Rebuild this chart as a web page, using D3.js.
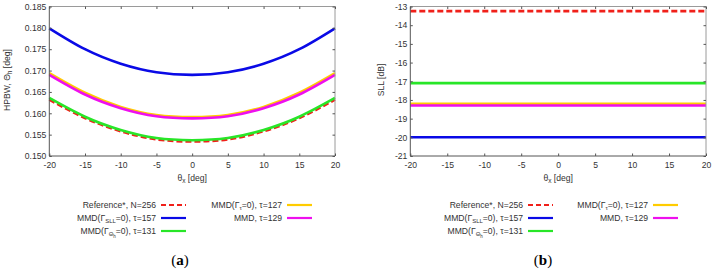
<!DOCTYPE html>
<html>
<head>
<meta charset="utf-8">
<script src="https://cdn.jsdelivr.net/npm/d3@7"></script>
<style>
  body { margin: 0; background: #fff; }
  svg text { font-family: "Liberation Sans", Arial, sans-serif; fill: #333; }
</style>
</head>
<body>
<svg id="chart" width="715" height="271"></svg>
<script>
// theta_x samples [deg]
var thetaX = [-20, -15, -10, -5, 0, 5, 10, 15, 20];

// HPBW [deg]
var hpbwRef = [0.1632, 0.1589, 0.1558, 0.1539, 0.1534, 0.1539, 0.1558, 0.1589, 0.1632];
var hpbwSll = [0.1799, 0.1750, 0.1716, 0.1696, 0.1690, 0.1696, 0.1716, 0.1750, 0.1799];
var hpbwTh = [0.1636, 0.1592, 0.1561, 0.1542, 0.1537, 0.1542, 0.1561, 0.1592, 0.1636];
var hpbwTau = [0.1694, 0.1648, 0.1615, 0.1596, 0.1591, 0.1596, 0.1615, 0.1648, 0.1694];
var hpbwMmd = [0.1690, 0.1644, 0.1612, 0.1593, 0.1588, 0.1593, 0.1612, 0.1644, 0.1690];

// SLL [dB], constant over theta_x
var sllRef = [-13.25, -13.25, -13.25, -13.25, -13.25, -13.25, -13.25, -13.25, -13.25];
var sllSll = [-20.0, -20.0, -20.0, -20.0, -20.0, -20.0, -20.0, -20.0, -20.0];
var sllTh = [-17.1, -17.1, -17.1, -17.1, -17.1, -17.1, -17.1, -17.1, -17.1];
var sllTau = [-18.2, -18.2, -18.2, -18.2, -18.2, -18.2, -18.2, -18.2, -18.2];
var sllMmd = [-18.3, -18.3, -18.3, -18.3, -18.3, -18.3, -18.3, -18.3, -18.3];

var xTicks = [-20, -15, -10, -5, 0, 5, 10, 15, 20];
var hpbwTicks = [0.150, 0.155, 0.160, 0.165, 0.170, 0.175, 0.180, 0.185];
var sllTicks = [-21, -20, -19, -18, -17, -16, -15, -14, -13];

var seriesStyle = [
  { color: "#f0201a", dash: "6,3" },
  { color: "#0a0ae6", dash: null },
  { color: "#28e628", dash: null },
  { color: "#ffcc00", dash: null },
  { color: "#ee10ee", dash: null }
];

var FONT = "'Liberation Sans', Arial, sans-serif";
var svg = d3.select("#chart");

function plain(d) { return String(d); }

function drawPanel(opt) {
  var x = d3.scaleLinear().domain([-20, 20]).range([opt.left, opt.right]);
  var y = d3.scaleLinear().domain(opt.yDomain).range([156, 6.5]);
  var g = svg.append("g");

  // lines
  var line = d3.line()
    .x(function (d) { return x(d[0]); })
    .y(function (d) { return y(d[1]); })
    .curve(d3.curveNatural);
  opt.series.forEach(function (s, i) {
    var pts = thetaX.map(function (t, k) { return [t, s[k]]; });
    g.append("path")
      .attr("d", line(pts))
      .attr("fill", "none")
      .attr("stroke", seriesStyle[i].color)
      .attr("stroke-width", 2.6)
      .attr("stroke-dasharray", seriesStyle[i].dash);
  });

  // frame
  g.append("path")
    .attr("d", "M" + opt.left + "," + y.range()[1] + "H" + opt.right + "V" + y.range()[0])
    .attr("fill", "none").attr("stroke", "#9a9a9a").attr("stroke-width", 1);
  g.append("path")
    .attr("d", "M" + opt.left + "," + y.range()[1] + "V" + y.range()[0] + "H" + opt.right)
    .attr("fill", "none").attr("stroke", "#555").attr("stroke-width", 1);

  // axes
  var ax = g.append("g").attr("transform", "translate(0,156)")
    .call(d3.axisBottom(x).tickValues(xTicks).tickSize(-2.5).tickPadding(6).tickFormat(plain));
  var axTop = g.append("g").attr("transform", "translate(0,6.5)")
    .call(d3.axisTop(x).tickValues(xTicks).tickSize(-2.5).tickFormat(""));
  var ay = g.append("g").attr("transform", "translate(" + opt.left + ",0)")
    .call(d3.axisLeft(y).tickValues(opt.yTicks).tickSize(-2.5).tickPadding(3)
      .tickFormat(opt.yFormat));
  var ayR = g.append("g").attr("transform", "translate(" + opt.right + ",0)")
    .call(d3.axisRight(y).tickValues(opt.yTicks).tickSize(-2.5).tickFormat(""));
  [ax, axTop, ay, ayR].forEach(function (a) {
    a.attr("font-family", FONT);
    a.select(".domain").remove();
    a.selectAll("line").attr("stroke", "#555");
    a.selectAll("text").attr("font-size", 8.6).style("fill", "#333");
  });

  // x title
  var xt = g.append("text")
    .attr("x", (opt.left + opt.right) / 2).attr("y", 181)
    .attr("text-anchor", "middle").attr("font-size", 8.6);
  xt.append("tspan").text("θ");
  xt.append("tspan").attr("font-size", 6.5).attr("dy", 2).text("x");
  xt.append("tspan").attr("dy", -2).text(" [deg]");

  // y title
  var yt = g.append("text")
    .attr("transform", "translate(" + opt.yTitleX + ",80) rotate(-90)")
    .attr("text-anchor", "middle").attr("font-size", 8.6);
  opt.yTitle(yt);

  // legend
  var rowsY = [208, 221, 234];
  var items = [
    { col: 0, row: 0, idx: 0, label: function (t) { t.append("tspan").text("Reference*, N=256"); } },
    { col: 0, row: 1, idx: 1, label: function (t) {
        t.append("tspan").text("MMD(Γ");
        t.append("tspan").attr("font-size", 6).attr("dy", 2).text("SLL");
        t.append("tspan").attr("dy", -2).text("=0), τ=157"); } },
    { col: 0, row: 2, idx: 2, label: function (t) {
        t.append("tspan").text("MMD(Γ");
        t.append("tspan").attr("font-size", 6).attr("dy", 2).text("Θ");
        t.append("tspan").attr("font-size", 4.5).attr("dy", 1.5).text("h");
        t.append("tspan").attr("dy", -3.5).text("=0), τ=131"); } },
    { col: 1, row: 0, idx: 3, label: function (t) {
        t.append("tspan").text("MMD(Γ");
        t.append("tspan").attr("font-size", 6).attr("dy", 2).text("τ");
        t.append("tspan").attr("dy", -2).text("=0), τ=127"); } },
    { col: 1, row: 1, idx: 4, label: function (t) { t.append("tspan").text("MMD, τ=129"); } }
  ];
  items.forEach(function (it) {
    var lx = opt.legendX[it.col];
    var yy = rowsY[it.row];
    var t = g.append("text").attr("x", lx - 5).attr("y", yy)
      .attr("text-anchor", "end").attr("font-size", 8.6);
    it.label(t);
    g.append("line")
      .attr("x1", lx).attr("x2", lx + 25).attr("y1", yy - 3).attr("y2", yy - 3)
      .attr("stroke", seriesStyle[it.idx].color).attr("stroke-width", 2.2)
      .attr("stroke-dasharray", seriesStyle[it.idx].dash ? "5,3" : null);
  });

  // panel tag
  var tag = svg.append("text")
    .attr("x", opt.tagX).attr("y", 265).attr("text-anchor", "middle")
    .attr("font-size", 15).style("font-family", "'Liberation Serif', 'DejaVu Serif', serif")
    .style("fill", "#000");
  tag.append("tspan").text("(");
  tag.append("tspan").attr("font-weight", "bold").text(opt.tag);
  tag.append("tspan").text(")");
}

drawPanel({
  left: 49.3, right: 335,
  yDomain: [0.150, 0.185], yTicks: hpbwTicks, yFormat: d3.format(".3f"),
  series: [hpbwRef, hpbwSll, hpbwTh, hpbwTau, hpbwMmd],
  yTitleX: 10,
  yTitle: function (t) {
    t.append("tspan").text("HPBW, Θ");
    t.append("tspan").attr("font-size", 6.5).attr("dy", 2).text("h");
    t.append("tspan").attr("dy", -2).text(" [deg]");
  },
  legendX: [161, 287], tag: "a", tagX: 180
});

drawPanel({
  left: 410.3, right: 706,
  yDomain: [-21, -13], yTicks: sllTicks, yFormat: plain,
  series: [sllRef, sllSll, sllTh, sllTau, sllMmd],
  yTitleX: 384,
  yTitle: function (t) { t.append("tspan").text("SLL [dB]"); },
  legendX: [528, 653], tag: "b", tagX: 543
});
</script>
</body>
</html>
